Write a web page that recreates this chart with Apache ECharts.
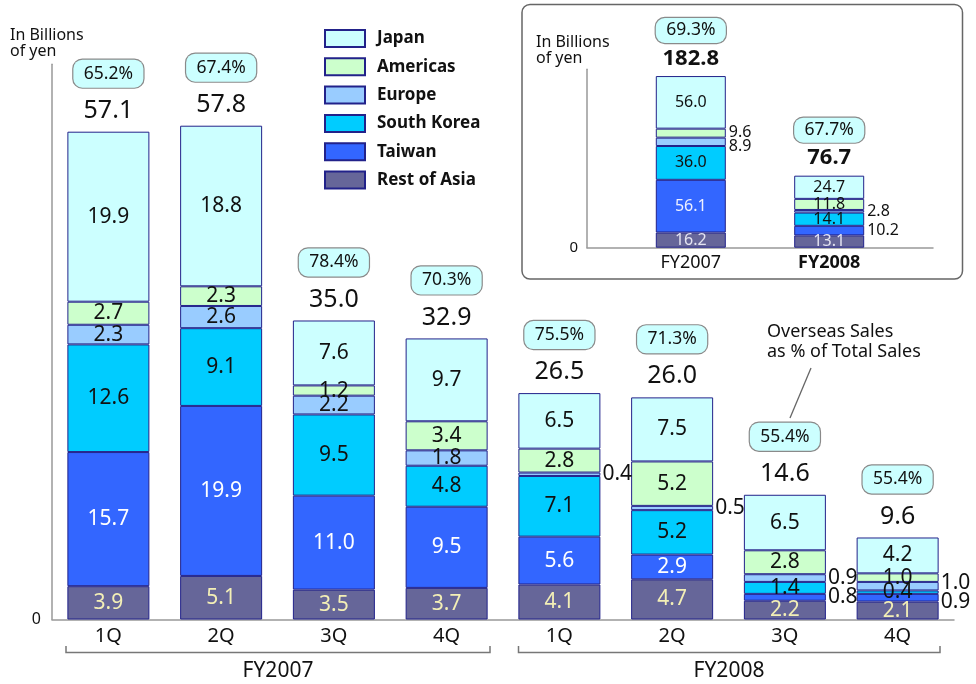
<!DOCTYPE html>
<html>
<head>
<meta charset="utf-8">
<script src="https://cdn.jsdelivr.net/npm/echarts@6/dist/echarts.min.js"></script>
<style>
html,body{margin:0;padding:0;background:#fff;}
#chart{width:976px;height:684px;}
</style>
</head>
<body>
<div id="chart"></div>
<script>
// ---- Quarterly data (billions of yen) ----
const quarters = ['1Q','2Q','3Q','4Q','1Q','2Q','3Q','4Q'];
const fiscalYears = ['FY2007','FY2008'];
const restOfAsia = [3.9, 5.1, 3.5, 3.7, 4.1, 4.7, 2.2, 2.1];
const taiwan     = [15.7, 19.9, 11.0, 9.5, 5.6, 2.9, 0.8, 0.9];
const southKorea = [12.6, 9.1, 9.5, 4.8, 7.1, 5.2, 1.4, 0.4];
const europe     = [2.3, 2.6, 2.2, 1.8, 0.4, 0.5, 0.9, 1.0];
const americas   = [2.7, 2.3, 1.2, 3.4, 2.8, 5.2, 2.8, 1.0];
const japan      = [19.9, 18.8, 7.6, 9.7, 6.5, 7.5, 6.5, 4.2];
const quarterTotals = [57.1, 57.8, 35.0, 32.9, 26.5, 26.0, 14.6, 9.6];
const quarterOverseasPct = ['65.2%','67.4%','78.4%','70.3%','75.5%','71.3%','55.4%','55.4%'];

// ---- Full-year data (inset) ----
const fyYears = ['FY2007','FY2008'];
const fyRestOfAsia = [16.2, 13.1];
const fyTaiwan     = [56.1, 10.2];
const fySouthKorea = [36.0, 14.1];
const fyEurope     = [8.9, 2.8];
const fyAmericas   = [9.6, 11.8];
const fyJapan      = [56.0, 24.7];
const fyTotals     = [182.8, 76.7];
const fyOverseasPct = ['69.3%','67.7%'];

const legendOrder = ['Japan','Americas','Europe','South Korea','Taiwan','Rest of Asia'];

const FONT = "'Noto Sans', 'DejaVu Sans', sans-serif";
const BORDER = '#22228a';

const regionsBottomUp = [
  {name:'Rest of Asia', q:restOfAsia, fy:fyRestOfAsia, color:'#666699', lc:'#f3efb6', fylc:'#e4e4f2'},
  {name:'Taiwan',       q:taiwan,     fy:fyTaiwan,     color:'#3366ff', lc:'#ffffff', fylc:'#eef0ff'},
  {name:'South Korea',  q:southKorea, fy:fySouthKorea, color:'#00ccff', lc:'#111111', fylc:'#111111'},
  {name:'Europe',       q:europe,     fy:fyEurope,     color:'#99ccff', lc:'#111111', fylc:'#111111'},
  {name:'Americas',     q:americas,   fy:fyAmericas,   color:'#ccffcc', lc:'#111111', fylc:'#111111'},
  {name:'Japan',        q:japan,      fy:fyJapan,      color:'#ccffff', lc:'#111111', fylc:'#111111'}
];

// which small segments carry their label to the right of the bar (with a small vertical nudge)
const outsideQ = {'Europe':{4:0,5:0,6:0,7:-3}, 'Taiwan':{6:0,7:4}};
const outsideFY = {'Europe':{0:5,1:0}, 'Americas':{0:-1}, 'Taiwan':{1:0}};

// inset category axis with spacer slots so bars sit where the original does
const fyAxisData = ['', fyYears[0], '', fyYears[1], ''];
const fySlot = [1, 3];
function toSlots(arr){ const out=[null,null,null,null,null]; arr.forEach((v,i)=>{out[fySlot[i]]=v;}); return out; }

const series = [];
regionsBottomUp.forEach(r => {
  const outQ = outsideQ[r.name] || {};
  series.push({
    name: r.name, type:'bar', stack:'q', xAxisIndex:0, yAxisIndex:0,
    barWidth: 82,
    itemStyle:{color:r.color, borderColor:BORDER, borderWidth:1},
    label:{show:true, position:'inside', fontSize:21, color:r.lc, fontFamily:FONT,
           formatter: p => p.value.toFixed(1)},
    emphasis:{disabled:true},
    data: r.q.map((v,i) => (i in outQ)
      ? {value:v, label:{position:'right', distance:2, color:'#111', offset:[0,outQ[i]]}}
      : v)
  });
});
regionsBottomUp.forEach(r => {
  const outF = outsideFY[r.name] || {};
  const d = r.fy.map((v,i) => (i in outF)
      ? {value:v, label:{position:'right', distance:3, color:'#111', offset:[0,outF[i]]}}
      : v);
  series.push({
    name: r.name, type:'bar', stack:'fy', xAxisIndex:1, yAxisIndex:1,
    barWidth: 70,
    itemStyle:{color:r.color, borderColor:BORDER, borderWidth:1},
    label:{show:true, position:'inside', fontSize:16, color:r.fylc, fontFamily:FONT,
           formatter: p => (p.value==null?'':Number(p.value).toFixed(1))},
    emphasis:{disabled:true},
    data: toSlots(d)
  });
});

// totals + overseas-share bubbles
series.push({
  name:'qTotal', type:'scatter', xAxisIndex:0, yAxisIndex:0,
  symbolSize:0.1, itemStyle:{color:'rgba(255,255,255,0)', opacity:1}, z:5,
  emphasis:{disabled:true},
  label:{show:true, position:'top', distance:-6, fontFamily:FONT, align:'center', color:'#111', opacity:1,
    formatter: p => '{p|' + quarterOverseasPct[p.dataIndex] + '}\n{t|' + quarterTotals[p.dataIndex].toFixed(1) + '}',
    rich:{
      p:{fontSize:17.5, width:54, height:20, lineHeight:20, align:'center', color:'#111', fontFamily:FONT, backgroundColor:'#ccffff',
         borderColor:'#8a8a8a', borderWidth:1.2, borderRadius:9, padding:[4,8,4,8]},
      t:{fontSize:25, lineHeight:54, color:'#111', fontFamily:FONT}
    }},
  data: quarterTotals
});
series.push({
  name:'fyTotal', type:'scatter', xAxisIndex:1, yAxisIndex:1,
  symbolSize:0.1, itemStyle:{color:'rgba(255,255,255,0)', opacity:1}, z:5,
  emphasis:{disabled:true},
  label:{show:true, position:'top', distance:-2, fontFamily:FONT, align:'center', color:'#111', opacity:1,
    formatter: p => { const i = fySlot.indexOf(p.dataIndex);
      return '{p|' + fyOverseasPct[i] + '}\n{t|' + fyTotals[i].toFixed(1) + '}'; },
    rich:{
      p:{fontSize:17.5, width:54, height:17, lineHeight:17, align:'center', color:'#111', fontFamily:FONT, backgroundColor:'#ccffff',
         borderColor:'#8a8a8a', borderWidth:1.2, borderRadius:9, padding:[4,8,4,8]},
      t:{fontSize:22, lineHeight:39, color:'#111', fontWeight:'bold', fontFamily:FONT}
    }},
  data: toSlots(fyTotals)
});

const chart = echarts.init(document.getElementById('chart'), null, {renderer:'canvas'});
chart.setOption({
  animation:false,
  backgroundColor:'#ffffff',
  textStyle:{fontFamily:FONT},
  legend:{
    data: legendOrder, orient:'vertical', left:324, top:29, padding:0,
    itemWidth:40, itemHeight:17, itemGap:9.3, icon:'rect', selectedMode:false,
    textStyle:{fontSize:17, fontWeight:'bold', color:'#111', lineHeight:17, padding:[0,0,0,7], fontFamily:FONT}
  },
  grid:[
    {left:52, right:22, top:64.2, bottom:64.5},
    {left:587, right:43, top:69.3, bottom:436.3}
  ],
  xAxis:[
    {type:'category', gridIndex:0, data:quarters, boundaryGap:true,
     axisLine:{show:true, lineStyle:{color:'#999', width:1.5}}, axisTick:{show:false},
     axisLabel:{fontSize:20, color:'#111', margin:7, fontFamily:FONT}},
    {type:'category', gridIndex:1, data:fyAxisData, boundaryGap:true,
     axisLine:{show:true, lineStyle:{color:'#999', width:1.5}}, axisTick:{show:false},
     axisLabel:{fontSize:18, color:'#111', margin:6, interval:0, fontFamily:FONT,
       formatter: v => v===fyYears[fyYears.length-1] ? '{b|'+v+'}' : v,
       rich:{b:{fontSize:18, fontWeight:'bold', color:'#111', fontFamily:FONT}}}}
  ],
  yAxis:[
    {type:'value', gridIndex:0, min:0, max:65, interval:65,
     axisLine:{show:true, lineStyle:{color:'#999', width:1.5}}, axisTick:{show:false},
     splitLine:{show:false},
     axisLabel:{fontSize:16, color:'#111', margin:11, formatter: v => v===0 ? '0' : ''}},
    {type:'value', gridIndex:1, min:0, max:190, interval:190,
     axisLine:{show:true, lineStyle:{color:'#999', width:1.5}}, axisTick:{show:false},
     splitLine:{show:false},
     axisLabel:{fontSize:15, color:'#111', margin:9, formatter: v => v===0 ? '0' : ''}}
  ],
  graphic:[
    {type:'rect', z:-10, shape:{x:522, y:4.5, width:440.5, height:274.5, r:8},
     style:{fill:'#ffffff', stroke:'#666', lineWidth:1.5}},
    {type:'text', left:10, top:27, z:10,
     style:{text:'In Billions\nof yen', font:"16px 'Noto Sans', sans-serif", fill:'#111', lineHeight:16}},
    {type:'text', left:536, top:34, z:10,
     style:{text:'In Billions\nof yen', font:"16px 'Noto Sans', sans-serif", fill:'#111', lineHeight:16}},
    {type:'text', left:767, top:322, z:10,
     style:{text:'Overseas Sales\nas % of Total Sales', font:"18px 'Noto Sans', sans-serif", fill:'#111', lineHeight:20}},
    {type:'line', z:10, shape:{x1:811, y1:368, x2:790, y2:418}, style:{stroke:'#666', lineWidth:1.3}},
    {type:'polyline', z:10, shape:{points:[[66,646],[66,652.5],[490,652.5],[490,646]]},
     style:{stroke:'#777', lineWidth:1.5, fill:null}},
    {type:'polyline', z:10, shape:{points:[[518.5,646],[518.5,652.5],[940,652.5],[940,646]]},
     style:{stroke:'#777', lineWidth:1.5, fill:null}},
    {type:'text', x:278, y:671, z:10,
     style:{text:fiscalYears[0], font:"21px 'Noto Sans', sans-serif", fill:'#111', align:'center', verticalAlign:'middle'}},
    {type:'text', x:729, y:671, z:10,
     style:{text:fiscalYears[1], font:"21px 'Noto Sans', sans-serif", fill:'#111', align:'center', verticalAlign:'middle'}}
  ],
  series: series
});
</script>
</body>
</html>
